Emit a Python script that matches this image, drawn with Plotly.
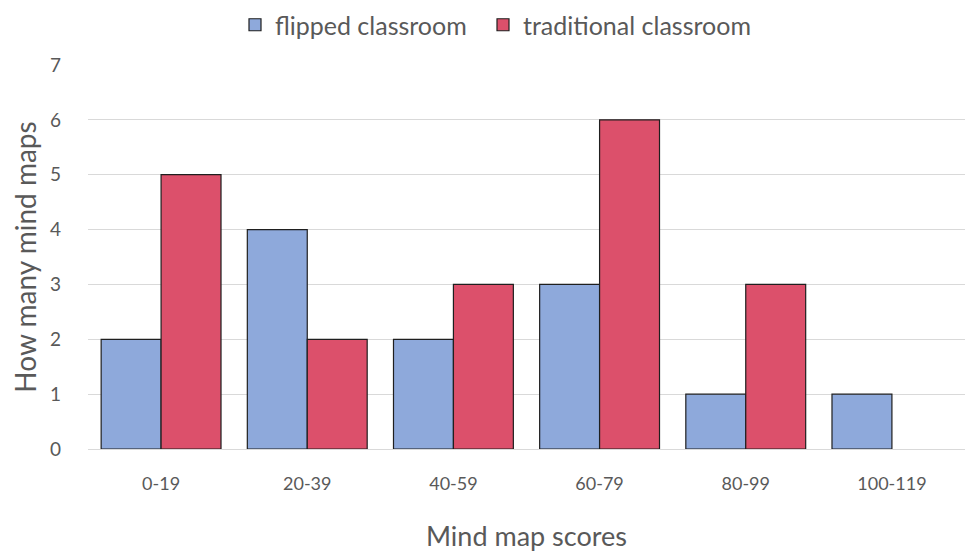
import plotly.graph_objects as go

categories = ["0-19", "20-39", "40-59", "60-79", "80-99", "100-119"]
flipped = [2, 4, 2, 3, 1, 1]
traditional = [5, 2, 3, 6, 3, 0]

font_family = "Lato, 'Open Sans', sans-serif"
text_color = "#595959"
edge = "#1f1f1f"


def outline_widths(values):
    # empty bars get no outline so nothing is drawn along the baseline
    return [1.2 if v else 0 for v in values]


fig = go.Figure()
fig.add_trace(go.Bar(
    name="flipped classroom", x=categories, y=flipped, legend="legend", showlegend=True,
    marker=dict(color="#8EA9DB", line=dict(color=edge, width=outline_widths(flipped))),
))
fig.add_trace(go.Bar(
    name="traditional classroom", x=categories, y=traditional, legend="legend2", showlegend=True,
    marker=dict(color="#DC506B", line=dict(color=edge, width=outline_widths(traditional))),
))

legend_style = dict(orientation="h", xref="container", xanchor="left",
                    yref="container", y=1 - 25 / 552, yanchor="middle",
                    font=dict(size=25, color=text_color), itemwidth=30)

fig.update_layout(
    width=974, height=552,
    margin=dict(l=88, r=9, t=65, b=103, autoexpand=False),
    paper_bgcolor="white", plot_bgcolor="white",
    showlegend=True,
    barmode="group", bargap=0.18, bargroupgap=0,
    font=dict(family=font_family, color=text_color, size=18),
    legend=dict(x=235 / 974, visible=True, **legend_style),
    legend2=dict(x=483 / 974, visible=True, **legend_style),
    xaxis=dict(
        title=dict(text="Mind map scores", font=dict(size=27, color=text_color), standoff=36),
        showgrid=False, showline=False, zeroline=False,
        ticks="", ticklabelstandoff=22, tickfont=dict(size=18, color=text_color),
    ),
    yaxis=dict(
        title=dict(text="How many mind maps", font=dict(size=28, color=text_color), standoff=5),
        range=[0, 7], dtick=1, showgrid=True, gridcolor="#d9d9d9", gridwidth=1.2,
        zeroline=True, zerolinecolor="#d9d9d9", zerolinewidth=1.2,
        ticks="", ticklabelstandoff=26, tickfont=dict(size=19, color=text_color),
    ),
)

fig.write_html("out.html")
